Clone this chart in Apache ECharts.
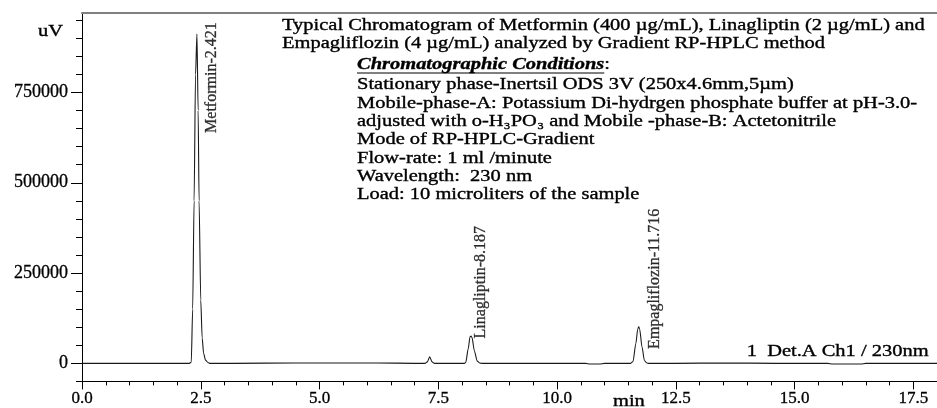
<!DOCTYPE html>
<html lang="en">
<head>
  <meta charset="UTF-8">
  <title>Chromatogram - Metformin, Linagliptin, Empagliflozin</title>
  <script src="https://cdn.jsdelivr.net/npm/echarts@6.0.0/dist/echarts.min.js"></script>
  <style>
    html, body { margin: 0; padding: 0; background: #fff; }
    #chart { width: 937px; height: 408px; }
  </style>
</head>
<body>
  <div id="chart"></div>
  <script>
    // detector trace: retention time (min) and signal (uV)
    const timeMin = [
      0, 1.0, 2.0, 2.26, 2.30, 2.33, 2.36, 2.39, 2.42, 2.445, 2.465, 2.50, 2.53, 2.56, 2.60, 2.65, 2.70,
      3.2, 4.5, 5.6, 6.2, 7.0, 7.22, 7.27, 7.32, 7.37, 7.42, 7.8,
      8.05, 8.08, 8.13, 8.17, 8.19, 8.21, 8.26, 8.32, 8.38, 8.42,
      9.0, 10.0, 10.6, 10.7, 10.9, 11.0,
      11.55, 11.60, 11.66, 11.70, 11.72, 11.74, 11.79, 11.84, 11.89, 11.93,
      12.5, 13.5, 14.6, 15.7, 15.8, 16.4, 16.5, 17.0, 18.0
    ];
    const signalUV = [
      0, 0, 0, 0, 3000, 150000, 450000, 800000, 912000, 700000, 450000, 175000, 70000, 28000, 9000, 2500, 0,
      0, 1000, 1000, 1000, 0, 0, 4000, 18000, 4000, 0, 0,
      0, 3000, 40000, 74000, 75600, 72000, 35000, 6000, 500, 0,
      0, 0, 0, -2000, -2000, 0,
      0, 5000, 55000, 95000, 101000, 95000, 45000, 8000, 1000, 0,
      0, 1000, 0, 0, -2000, -2000, 0, 0, 0
    ];

    // peak labels: text and where the (rotated) label starts
    const peakNames = ['Metformin-2.421', 'Linagliptin-8.187', 'Empagliflozin-11.716'];
    const peakLabelTime = [2.733, 8.40, 12.05];
    const peakLabelUV = [638000, 69000, 40000];

    // axis ticks
    const xMajorTicks = [0, 2.5, 5, 7.5, 10, 12.5, 15, 17.5];
    const yMajorTicks = [0, 250000, 500000, 750000];
    const yMinorTicks = [-50000, 0, 50000, 100000, 150000, 200000, 250000, 300000, 350000, 400000,
      450000, 500000, 550000, 600000, 650000, 700000, 750000, 800000, 850000, 900000, 950000];

    // annotation text
    const titleLines = [
      'Typical Chromatogram of Metformin (400 µg/mL), Linagliptin (2 µg/mL) and',
      'Empagliflozin (4 µg/mL) analyzed by Gradient RP-HPLC method'
    ];
    const conditionHeading = 'Chromatographic Conditions';
    const conditionLines = [
      'Stationary phase-Inertsil ODS 3V (250x4.6mm,5µm)',
      'Mobile-phase-A: Potassium Di-hydrgen phosphate buffer at pH-3.0-',
      'adjusted with o-H₃PO₃ and Mobile -phase-B: Actetonitrile',
      'Mode of RP-HPLC-Gradient',
      'Flow-rate: 1 ml /minute',
      'Wavelength:  230 nm',
      'Load: 10 microliters of the sample'
    ];
    const detectorText = '1  Det.A Ch1 / 230nm';

    const FAMILY = '"Liberation Serif", "Times New Roman", serif';
    const FONT = '16.5px ' + FAMILY;
    const HEAD_FONT = 'italic bold 16.5px ' + FAMILY;
    const SX = 1.24; // the source picture is stretched sideways

    const ctx = document.createElement('canvas').getContext('2d');
    function textWidth(str, font) {
      ctx.font = font;
      return ctx.measureText(str).width;
    }

    function textEl(x, y, text, align, extra) {
      return {
        type: 'text', x: x, y: y, scaleX: SX, z: 10,
        style: Object.assign({
          text: text, font: FONT, fill: '#000',
          stroke: '#000', lineWidth: 0.35,
          align: align || 'left', verticalAlign: 'middle',
          textAlign: align || 'left', textVerticalAlign: 'middle'
        }, extra || {})
      };
    }

    const blockY = [84.3, 103.3, 121.5, 140, 158.5, 177, 195];
    const graphics = [
      textEl(282, 25.5, titleLines[0]),
      textEl(282, 43.3, titleLines[1]),
      textEl(357, 65, '{h|' + conditionHeading + '}:', 'left', {
        rich: { h: { font: HEAD_FONT, fill: '#000' } }
      }),
      {
        type: 'line', z: 10,
        shape: { x1: 357, y1: 73, x2: 357 + textWidth(conditionHeading, HEAD_FONT) * SX, y2: 73 },
        style: { stroke: '#000', lineWidth: 1 }
      },
      textEl(63, 31.7, 'uV', 'right'),
      textEl(613, 401.5, 'min'),
      textEl(746.7, 351.7, detectorText)
    ];
    conditionLines.forEach((line, i) => graphics.push(textEl(357, blockY[i], line)));

    const trace = timeMin.map((t, i) => [t, signalUV[i]]);
    const labelPoints = peakNames.map((n, i) => ({ name: n, value: [peakLabelTime[i], peakLabelUV[i]] }));

    const option = {
      animation: false,
      backgroundColor: '#fff',
      grid: { left: 82, right: -2.5, top: 13, bottom: 26.6 },
      xAxis: [
        {
          type: 'value', min: 0, max: 18, interval: 0.5, position: 'bottom',
          axisLine: { show: true, onZero: false, lineStyle: { color: '#000', width: 1 } },
          axisTick: { show: true, length: 4, lineStyle: { color: '#000' } },
          axisLabel: { show: false },
          splitLine: { show: false }
        },
        {
          type: 'value', min: 0, max: 18, position: 'bottom',
          axisLine: { show: false, onZero: false },
          axisTick: { show: true, length: 8, customValues: xMajorTicks, lineStyle: { color: '#000' } },
          axisLabel: {
            customValues: xMajorTicks, formatter: v => v.toFixed(1),
            fontFamily: FAMILY, fontSize: 17, color: '#000', margin: 9,
            textBorderColor: '#000', textBorderWidth: 0.3
          },
          splitLine: { show: false }
        },
        {
          type: 'value', min: 0, max: 18, position: 'top',
          axisLine: { show: true, onZero: false, lineStyle: { color: '#808080', width: 2 } },
          axisTick: { show: false }, axisLabel: { show: false }, splitLine: { show: false }
        }
      ],
      yAxis: [
        {
          type: 'value', min: -50000, max: 970000, position: 'left',
          axisLine: { show: true, onZero: false, lineStyle: { color: '#000', width: 1 } },
          axisTick: { show: true, length: 6, customValues: yMinorTicks, lineStyle: { color: '#000' } },
          axisLabel: { show: false },
          splitLine: { show: false }
        },
        {
          type: 'value', min: -50000, max: 970000, position: 'left',
          axisLine: { show: false, onZero: false },
          axisTick: { show: true, length: 11, customValues: yMajorTicks, lineStyle: { color: '#000' } },
          axisLabel: {
            customValues: yMajorTicks, formatter: v => String(v),
            fontFamily: FAMILY, fontSize: 18, color: '#000', margin: 14,
            textBorderColor: '#000', textBorderWidth: 0.3
          },
          splitLine: { show: false }
        }
      ],
      series: [
        {
          type: 'line', data: trace, xAxisIndex: 0, yAxisIndex: 0,
          symbol: 'none', showSymbol: false,
          smooth: 0.25, smoothMonotone: 'x',
          lineStyle: { color: '#1a1a1a', width: 1.1 }
        },
        {
          type: 'scatter', data: labelPoints, xAxisIndex: 0, yAxisIndex: 0,
          symbolSize: 1, itemStyle: { color: 'rgba(0,0,0,0)' },
          label: {
            show: true, position: 'inside', rotate: 90, align: 'left', verticalAlign: 'middle',
            formatter: '{b}', fontFamily: FAMILY, fontSize: 16, color: '#000',
            textBorderColor: '#000', textBorderWidth: 0.3
          }
        }
      ],
      graphic: graphics
    };

    const myChart = echarts.init(document.getElementById('chart'));
    myChart.setOption(option);
  </script>
</body>
</html>
